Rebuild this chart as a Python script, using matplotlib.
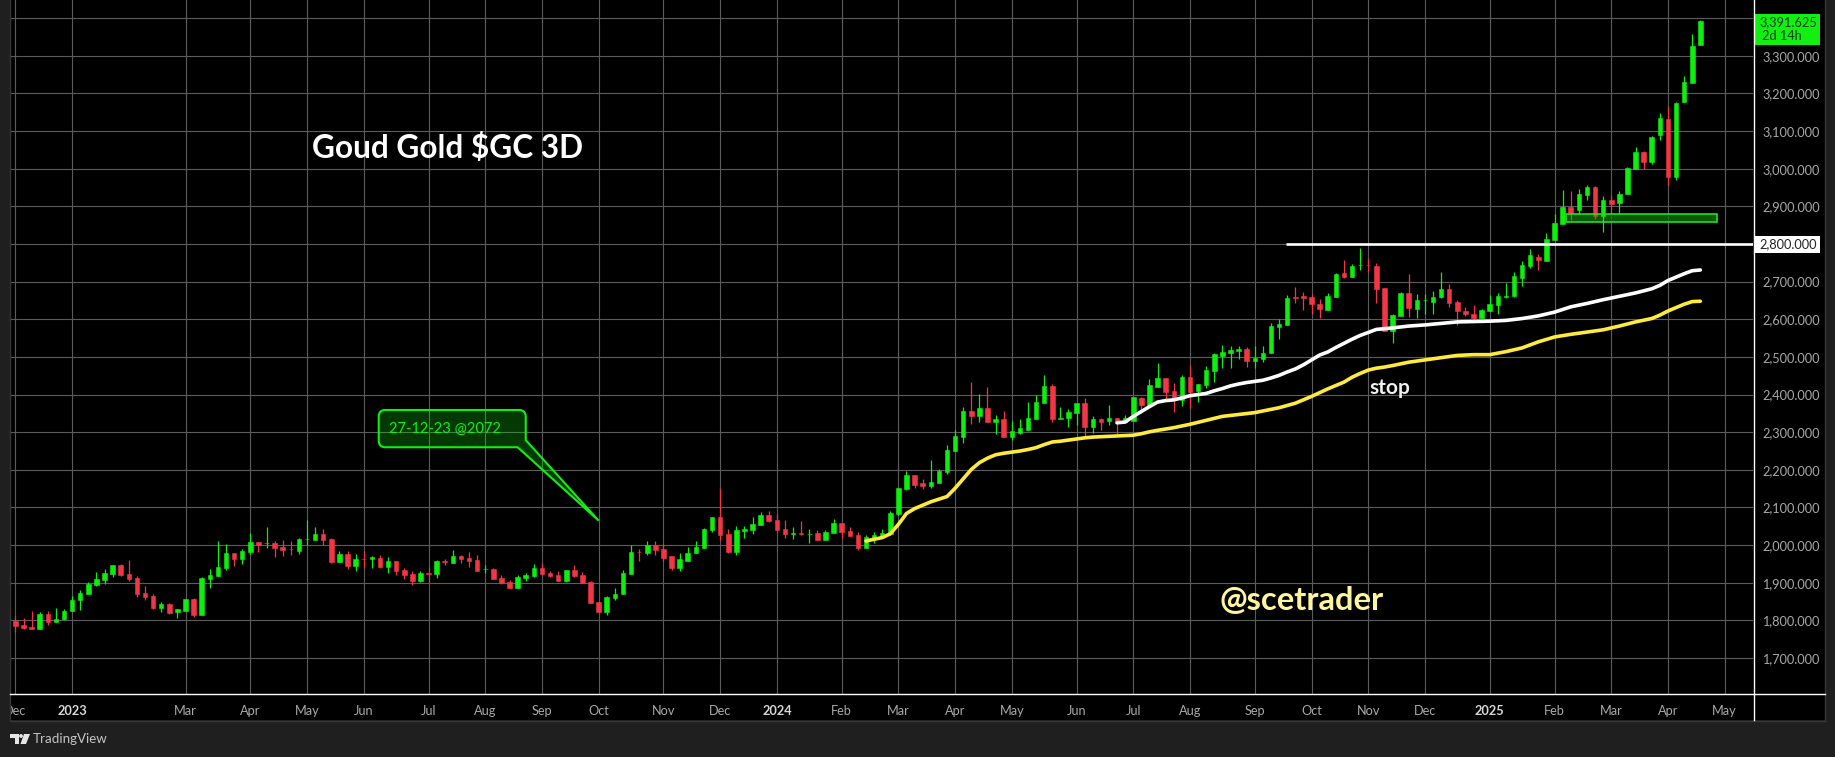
#!/usr/bin/env python3
# Goud / Gold 3D candles, TradingView dark layout
import numpy as np
import matplotlib
matplotlib.use('Agg')
import matplotlib.pyplot as plt
from matplotlib.patches import Rectangle, PathPatch, Polygon
from matplotlib.path import Path

opens = [
    1798,1788,1783,1776,1817,1797,1803,1824,1853,1871,
    1895,1908,1924,1948,1924,1913,1874,1866,1834,1844,
    1821,1826,1858,1813,1911,1918,1940,1980,1963,1982,
    2008,2005,2006,1996,1990,1985,2015,2014,2030,2016,
    1955,1977,1945,1963,1963,1966,1942,1958,1934,1924,
    1905,1926,1924,1959,1953,1971,1966,1961,1936,1937,
    1913,1903,1887,1913,1918,1940,1926,1921,1905,1934,
    1921,1903,1850,1821,1860,1869,1922,1983,1978,1999,
    1989,1970,1938,1959,1978,1991,2040,2074,2029,1981,
    2038,2040,2053,2080,2067,2042,2030,2031,2029,2031,
    2013,2031,2058,2037,2026,1991,2016,2021,2029,2082,
    2148,2185,2164,2156,2164,2193,2251,2288,2355,2342,
    2363,2326,2334,2286,2299,2307,2334,2377,2422,2334,
    2337,2350,2377,2315,2334,2329,2337,2328,2329,2390,
    2371,2420,2444,2410,2386,2447,2410,2426,2463,2503,
    2511,2516,2521,2489,2495,2511,2580,2585,2659,2662,
    2659,2641,2625,2659,2723,2712,2743,2745,2742,2683,
    2569,2609,2670,2627,2650,2646,2659,2681,2646,2622,
    2614,2604,2622,2638,2659,2662,2711,2741,2765,2754,
    2810,2853,2898,2890,2930,2951,2874,2917,2909,2933,
    2999,3044,3018,3089,3132,2978,3177,3227,3328]
highs = [
    1811,1807,1826,1823,1825,1833,1829,1866,1881,1903,
    1929,1937,1948,1950,1961,1918,1892,1871,1850,1847,
    1831,1858,1860,1916,1937,2011,2003,1980,1990,2032,
    2008,2048,2011,2014,2011,2019,2066,2048,2043,2019,
    1984,1984,1977,1984,1971,1974,1969,1958,1940,1932,
    1932,1942,1961,1963,1987,1974,1982,1974,1947,1940,
    1921,1908,1921,1926,1950,1953,1932,1932,1934,1947,
    1929,1905,1850,1866,1887,1935,2000,1989,2012,2010,
    2004,1970,1978,1996,2010,2045,2076,2151,2042,2050,
    2050,2074,2087,2090,2082,2067,2047,2063,2042,2039,
    2039,2069,2058,2047,2034,2026,2036,2044,2090,2151,
    2196,2185,2175,2225,2201,2267,2307,2366,2433,2401,
    2420,2347,2355,2329,2334,2379,2398,2452,2428,2366,
    2361,2377,2390,2342,2337,2371,2337,2347,2393,2393,
    2441,2483,2444,2431,2452,2479,2428,2476,2511,2532,
    2529,2529,2527,2529,2529,2590,2601,2665,2686,2673,
    2667,2654,2670,2723,2758,2747,2789,2763,2750,2683,
    2614,2673,2720,2667,2667,2675,2726,2694,2651,2633,
    2638,2627,2665,2670,2696,2726,2755,2786,2773,2828,
    2881,2943,2941,2946,2957,2954,2927,2930,2941,3004,
    3058,3047,3087,3148,3166,3177,3246,3357,3395]
lows = [
    1768,1778,1776,1776,1787,1797,1802,1824,1827,1869,
    1892,1897,1914,1918,1904,1863,1855,1831,1821,1818,
    1807,1826,1810,1813,1887,1918,1934,1945,1950,1977,
    1982,1993,1969,1971,1974,1977,2000,2014,2000,1953,
    1955,1937,1932,1940,1940,1940,1926,1921,1911,1895,
    1903,1903,1913,1948,1953,1953,1942,1932,1926,1911,
    1897,1887,1887,1905,1916,1921,1916,1905,1903,1916,
    1900,1847,1821,1813,1855,1869,1922,1957,1973,1973,
    1957,1935,1932,1959,1978,1991,2034,2013,1978,1975,
    2018,2029,2053,2061,2040,2018,2015,2026,2005,2013,
    2013,2031,2018,2023,1986,1991,2006,2021,2026,2079,
    2146,2153,2148,2151,2164,2188,2251,2270,2321,2326,
    2326,2294,2286,2278,2294,2307,2334,2377,2326,2334,
    2315,2318,2288,2297,2307,2318,2294,2328,2329,2350,
    2371,2420,2383,2354,2370,2365,2381,2418,2434,2471,
    2471,2495,2473,2471,2487,2511,2548,2585,2643,2625,
    2614,2604,2625,2659,2710,2712,2731,2726,2643,2569,
    2537,2609,2606,2604,2614,2614,2656,2633,2585,2609,
    2598,2604,2622,2614,2657,2659,2688,2735,2730,2754,
    2810,2853,2864,2881,2917,2866,2832,2881,2881,2933,
    2999,2999,3012,3076,2957,2970,3177,3227,3328]
closes = [
    1786,1780,1776,1817,1797,1804,1826,1855,1874,1897,
    1911,1926,1948,1921,1911,1871,1863,1834,1844,1820,
    1829,1858,1813,1913,1921,1942,1980,1963,1985,2008,
    2000,2006,1993,1987,1989,2016,2016,2030,2014,1955,
    1977,1945,1963,1962,1968,1942,1958,1932,1921,1905,
    1926,1924,1958,1956,1971,1963,1958,1932,1937,1911,
    1900,1887,1916,1921,1940,1924,1918,1905,1934,1918,
    1900,1847,1821,1863,1871,1925,1983,1982,1999,1986,
    1967,1938,1962,1980,1994,2042,2074,2026,1981,2039,
    2042,2056,2080,2064,2040,2029,2031,2029,2030,2013,
    2034,2058,2034,2023,1991,2021,2026,2031,2084,2151,
    2185,2161,2156,2167,2196,2254,2291,2355,2342,2363,
    2326,2334,2286,2302,2310,2337,2379,2422,2334,2339,
    2353,2377,2315,2334,2326,2337,2325,2338,2393,2371,
    2425,2444,2407,2386,2447,2407,2428,2465,2508,2513,
    2519,2521,2489,2497,2511,2582,2588,2657,2657,2657,
    2641,2627,2662,2720,2712,2742,2745,2743,2681,2569,
    2612,2670,2630,2651,2652,2659,2681,2643,2622,2614,
    2604,2625,2641,2662,2662,2715,2743,2770,2757,2812,
    2855,2898,2881,2933,2951,2874,2917,2906,2933,3002,
    3044,3018,3084,3134,2978,3174,3230,3326,3391.625]

# moving averages: bar index, price
yellow_bars = [105,107,108,109,110,111,112,113,114,115,116,117,118,119,120,121,122,123,124,125,
               126,127,128,129,130,131,132,133,134,135,136,137,138,139,140,141,143,145,149,153,
               156,158,160,162,163,164,165,166,167,168,169,170,172,174,176,178,180,182,184,186,
               188,190,192,194,196,198,200,202,203,204,205,206,207,208]
yellow_ma = [2011,2020,2030,2055,2084,2097,2106,2115,2122,2129,2151,2176,2201,2219,2231,2240,2244,2247,2250,2254,
             2259,2267,2274,2276,2279,2282,2285,2287,2288,2289,2290,2291,2292,2296,2301,2305,2312,2321,2342,2352,
             2365,2377,2395,2415,2424,2433,2446,2456,2465,2470,2473,2477,2486,2492,2498,2504,2506,2506,2514,2524,
             2540,2553,2560,2566,2572,2582,2593,2602,2611,2622,2631,2640,2647,2648]
white_bars = [136,137,138,139,140,141,142,143,144,145,146,147,148,149,150,151,152,153,154,155,
              156,157,158,159,160,161,162,163,164,165,166,167,168,169,170,172,174,176,178,180,
              182,184,186,188,190,192,194,196,198,200,202,203,204,205,206,207,208]
white_ma = [2325,2327,2342,2355,2368,2380,2384,2386,2391,2397,2400,2403,2410,2416,2423,2428,2432,2435,2438,2444,
            2451,2460,2468,2479,2492,2505,2513,2525,2536,2547,2557,2565,2573,2575,2577,2582,2585,2589,2593,2594,
            2595,2597,2602,2609,2619,2633,2642,2652,2661,2670,2681,2690,2703,2712,2721,2729,2731]

price_ticks = [1700,1800,1900,2000,2100,2200,2300,2400,2500,2600,2700,2800,2900,3000,3100,3200,3300,3400]
date_bars = [0,7,21,29,36,43,51,58,65,72,80,87,94,102,109,116,123,131,138,145,153,160,167,174,182,190,197,204,211]
date_labels = ['Dec','2023','Mar','Apr','May','Jun','Jul','Aug','Sep','Oct','Nov','Dec','2024','Feb','Mar','Apr',
               'May','Jun','Jul','Aug','Sep','Oct','Nov','Dec','2025','Feb','Mar','Apr','May']

GREEN = '#0FEF0F'
RED = '#F23645'
W, H = 1835, 757
FONT = 'Lato'

plt.rcParams['font.family'] = FONT

fig = plt.figure(figsize=(W/100, H/100), dpi=100, facecolor='#000000')
ax = fig.add_axes([10/W, (H-694)/H, (1753-10)/W, 694/H], facecolor='#000000')

x = np.arange(len(opens))
o, h, l, c = map(np.array, (opens, highs, lows, closes))
colors = np.where(c >= o, GREEN, RED)

ax.vlines(x, l, h, colors=colors, linewidth=0.9, zorder=3)
ax.bar(x, np.abs(c-o), bottom=np.minimum(o, c), width=0.56, color=colors,
       edgecolor=colors, linewidth=0.4, zorder=4)

ax.plot(yellow_bars, yellow_ma, color='#FFEB3B', linewidth=2.6, zorder=5, solid_capstyle='round')
ax.plot(white_bars, white_ma, color='#FFFFFF', linewidth=2.6, zorder=5, solid_capstyle='round')

# levels drawn on the chart
ax.hlines(2800, 156.9, 214.5, color='white', linewidth=1.9, zorder=5)
ax.add_patch(Rectangle((191.4, 2859), 18.7, 22, facecolor='#0A7A0A', alpha=0.75, edgecolor='none', zorder=2))
ax.add_patch(Rectangle((191.4, 2859), 18.7, 22, facecolor='none', edgecolor='#22DD22', linewidth=1.2, zorder=6))

# callout with rounded corners, radius kept even in screen terms
x0, x1, y0, y1 = 44.85, 63.0, 2260, 2359
rx, ry = 0.8, 18
verts = [(x0+rx, y1), (x1-rx, y1), (x1, y1), (x1, y1-ry), (x1, 2279), (72, 2065), (62.0, 2260),
         (x0+rx, y0), (x0, y0), (x0, y0+ry), (x0, y1-ry), (x0, y1), (x0+rx, y1), (x0+rx, y1)]
codes = [Path.MOVETO, Path.LINETO, Path.CURVE3, Path.CURVE3, Path.LINETO, Path.LINETO, Path.LINETO,
         Path.LINETO, Path.CURVE3, Path.CURVE3, Path.LINETO, Path.CURVE3, Path.CURVE3, Path.CLOSEPOLY]
ax.add_patch(PathPatch(Path(verts, codes), facecolor=(0.05, 0.85, 0.05, 0.27), edgecolor='#12EE12',
                       linewidth=1.5, zorder=6))
ax.text(46.1, 2310, '27-12-23 @2072', color='#12EE12', fontsize=10.6, va='center', ha='left', zorder=7)

ax.set_xlim(-0.667, 214.5)
ax.set_ylim(1604.4, 3448.3)
ax.yaxis.tick_right()
ax.set_yticks(price_ticks)
ax.set_yticklabels(['' if p == 2800 else f'{p:,.3f}' for p in price_ticks])
ax.set_xticks(date_bars)
ax.set_xticklabels(date_labels)
ax.tick_params(axis='both', length=0, labelsize=9.2, labelcolor='#A8A8A8')
ax.tick_params(axis='x', pad=8)
ax.tick_params(axis='y', pad=6.5)
for lab in ax.get_xticklabels():
    if lab.get_text().startswith('20'):
        lab.set_color('#D8D8D8')
        lab.set_fontweight('bold')
ax.grid(True, color='#5C5C5C', linewidth=0.8, zorder=0)
ax.set_axisbelow(True)
for s in ax.spines.values():
    s.set_visible(False)

ax.text(36.6, 3055, 'Goud Gold $GC 3D', color='white', fontsize=22.8, fontweight='bold', va='center', ha='left', zorder=8)
ax.text(148.7, 1854, '@scetrader', color='#FFF59D', fontsize=23.6, fontweight='bold', va='center', ha='left', zorder=8)
ax.text(167.2, 2417, 'stop', color='#EFEFEF', fontsize=15, fontweight='bold', va='center', ha='left', zorder=8)

# page chrome in pixel coordinates, on top of the chart
top = fig.add_axes([0, 0, 1, 1], facecolor='none')
top.set_xlim(0, W)
top.set_ylim(H, 0)
top.axis('off')
BG = '#1F1F1F'
top.add_patch(Rectangle((0, 0), 10, H, facecolor=BG, edgecolor='none'))
top.add_patch(Rectangle((0, 720), W, H-720, facecolor=BG, edgecolor='none'))
top.add_patch(Rectangle((1825, 0), W-1825, H, facecolor=BG, edgecolor='none'))
top.plot([10, 1825], [720.5, 720.5], color='#383838', linewidth=1)
top.plot([1825, 1825], [0, 720], color='#383838', linewidth=1)
top.plot([9.5, 9.5], [0, 720], color='#383838', linewidth=1)
top.plot([10, 1825], [694, 694], color='white', linewidth=1)
top.plot([1753.5, 1753.5], [0, 720], color='white', linewidth=1)

top.add_patch(Rectangle((1754, 14), 66, 31, facecolor='#11F011', edgecolor='none'))
top.text(1788, 22, '3,391.625', color='#0B3D0B', fontsize=9.2, ha='center', va='center')
top.text(1762, 36, '2d 14h', color='#0B3D0B', fontsize=9.2, ha='left', va='center')
top.add_patch(Rectangle((1754, 236), 66, 17, facecolor='white', edgecolor='none'))
top.text(1788, 244, '2,800.000', color='#222222', fontsize=9.2, ha='center', va='center')

# TradingView mark
top.add_patch(Polygon([(10, 734), (19, 734), (19, 744), (14.5, 744), (14.5, 738), (10, 738)], facecolor='#E6E6E6', edgecolor='none'))
top.add_patch(Polygon([(24, 734), (30, 734), (26, 744), (20.5, 744)], facecolor='#E6E6E6', edgecolor='none'))
top.add_patch(plt.Circle((21, 736), 1.9, facecolor='#E6E6E6', edgecolor='none'))
top.text(33, 739, 'TradingView', color='#C4C4C4', fontsize=9.6, ha='left', va='center')

plt.savefig('out.png', dpi=100, facecolor=fig.get_facecolor())
